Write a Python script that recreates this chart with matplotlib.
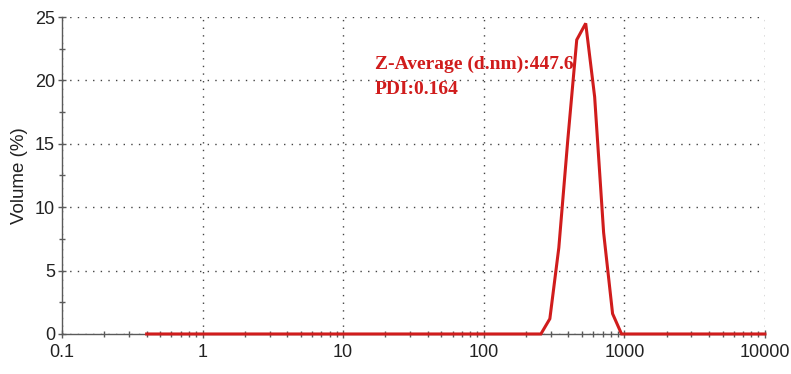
import matplotlib
matplotlib.use("Agg")
import matplotlib.pyplot as plt
from matplotlib.ticker import LogLocator, FixedLocator, NullFormatter, FixedFormatter

# Size (d.nm) and Volume (%)
size_nm = [0.4, 220.2, 255.0, 295.3, 342.0, 396.1, 458.7, 531.2, 615.1, 712.4, 825.0, 955.4, 1106, 10000]
volume = [0.0, 0.0, 0.0, 1.2, 6.8, 15.3, 23.2, 24.5, 18.7, 8.0, 1.6, 0.0, 0.0, 0.0]

x_ticks = [0.1, 1, 10, 100, 1000, 10000]
x_labels = ["0.1", "1", "10", "100", "1000", "10000"]
y_ticks = [0, 5, 10, 15, 20, 25]
annot_lines = ["Z-Average (d.nm):447.6", "PDI:0.164"]

red = "#d01c1c"
axcol = "#5a5a5a"

fig = plt.figure(figsize=(7.91, 3.74), dpi=100)
ax = fig.add_axes([0.0784, 0.107, 0.8886, 0.8475])

ax.plot(size_nm, volume, color=red, lw=2.2, solid_joinstyle="miter", clip_on=False, zorder=3)

ax.set_xscale("log")
ax.set_xlim(0.1, 10000)
ax.set_ylim(0, 25)

ax.xaxis.set_major_locator(FixedLocator(x_ticks))
ax.xaxis.set_major_formatter(FixedFormatter(x_labels))
ax.xaxis.set_minor_locator(LogLocator(base=10, subs=range(2, 10)))
ax.xaxis.set_minor_formatter(NullFormatter())
ax.yaxis.set_major_locator(FixedLocator(y_ticks))
ax.yaxis.set_minor_locator(FixedLocator([2.5, 7.5, 12.5, 17.5, 22.5]))

for s in ["top", "right"]:
    ax.spines[s].set_visible(False)
for s in ["left", "bottom"]:
    ax.spines[s].set_color(axcol)
    ax.spines[s].set_linewidth(1.0)

ax.tick_params(which="both", direction="inout", color=axcol, width=1.0)
ax.tick_params(which="major", length=6)
ax.tick_params(which="minor", length=5)
ax.tick_params(axis="both", labelsize=13, labelcolor="#222222")
ax.tick_params(axis="x", pad=4)
ax.tick_params(axis="y", pad=2)

for lab in ax.get_xticklabels() + ax.get_yticklabels():
    lab.set_fontfamily("Liberation Sans")

ax.grid(True, which="major", color="#444444", lw=1.0, linestyle=(0, (1, 4.5)))
ax.set_axisbelow(True)

ax.set_ylabel("Volume (%)", fontsize=13.5, family="Liberation Sans", color="#222222", labelpad=5)

ax.text(0.445, 0.836, annot_lines[0], transform=ax.transAxes, color=red,
        fontsize=14, family="Liberation Serif", fontweight="bold", va="baseline")
ax.text(0.445, 0.757, annot_lines[1], transform=ax.transAxes, color=red,
        fontsize=14, family="Liberation Serif", fontweight="bold", va="baseline")

fig.savefig("out.png", dpi=100)
